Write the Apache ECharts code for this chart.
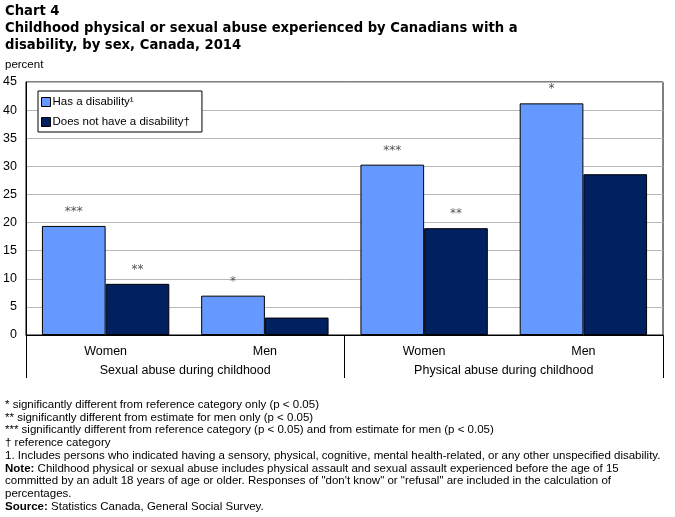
<!DOCTYPE html>
<html>
<head>
<meta charset="utf-8">
<script src="https://cdn.jsdelivr.net/npm/echarts@6/dist/echarts.min.js"></script>
<style>
  html, body { margin: 0; padding: 0; background: #fff; }
  #main { width: 675px; height: 517px; }
</style>
</head>
<body>
<div id="main"></div>
<script>
  // categories
  var sexes = ['Women', 'Men', 'Women', 'Men'];
  var abuseTypes = ['Sexual abuse during childhood', 'Physical abuse during childhood'];
  var seriesNames = ['Has a disability\u00b9', 'Does not have a disability\u2020'];

  // values (percent)
  var hasDisability = [19.4, 7.0, 30.3, 41.2];
  var noDisability = [9.1, 3.1, 19.0, 28.6];

  // significance markers shown above bars
  var hasMarks = ['***', '*', '***', '*'];
  var noMarks = ['**', '', '**', ''];

  var yTicks = { min: 0, max: 45, interval: 5 };

  var footnotes = [
    '* significantly different from reference category only (p < 0.05)',
    '** significantly different from estimate for men only (p < 0.05)',
    '*** significantly different from reference category (p < 0.05) and from estimate for men (p < 0.05)',
    '\u2020 reference category',
    '1. Includes persons who indicated having a sensory, physical, cognitive, mental health-related, or any other unspecified disability.',
    '{b|Note:} Childhood physical or sexual abuse includes physical assault and sexual assault experienced before the age of 15',
    'committed by an adult 18 years of age or older. Responses of "don\'t know" or "refusal" are included in the calculation of',
    'percentages.',
    '{b|Source:} Statistics Canada, General Social Survey.'
  ];

  var font = 'Liberation Sans';
  var chart = echarts.init(document.getElementById('main'));
  var option = {
    backgroundColor: '#ffffff',
    animation: false,
    title: [
      {
        left: 5, top: 3,
        text: 'Chart 4\nChildhood physical or sexual abuse experienced by Canadians with a\ndisability, by sex, Canada, 2014',
        textStyle: { fontFamily: 'DejaVu Sans', fontWeight: 'bold', fontSize: 13.2, lineHeight: 17, color: '#000' },
        padding: 0
      },
      {
        left: 5, top: 59,
        text: 'percent',
        textStyle: { fontFamily: font, fontWeight: 'normal', fontSize: 11.5, color: '#000' },
        padding: 0
      },
      {
        left: 5, top: 398.5,
        text: footnotes.join('\n'),
        padding: 0,
        textStyle: {
          fontFamily: font, fontWeight: 'normal', fontSize: 11.5, lineHeight: 12.7, color: '#000',
          rich: { b: { fontFamily: font, fontWeight: 'bold', fontSize: 11.5, lineHeight: 12.7, color: '#000' } }
        }
      }
    ],
    legend: {
      orient: 'vertical',
      left: 38, top: 91,
      padding: [5, 12, 4, 3],
      icon: 'rect',
      itemWidth: 9, itemHeight: 9, itemGap: 8,
      borderColor: '#000', borderWidth: 1,
      backgroundColor: '#fff',
      data: seriesNames,
      itemStyle: { borderColor: '#000', borderWidth: 1 },
      textStyle: { fontFamily: font, fontSize: 11.5, color: '#000', padding: [0, 0, 0, -3] }
    },
    grid: {
      left: 26, right: 12, top: 82, bottom: 182,
      show: true, borderColor: '#000', borderWidth: 1
    },
    xAxis: [
      {
        type: 'category',
        data: sexes,
        position: 'bottom',
        axisLine: { lineStyle: { color: '#000', width: 1 } },
        axisTick: { show: false },
        axisLabel: { color: '#000', fontFamily: font, fontSize: 12.5, margin: 10 }
      },
      {
        type: 'category',
        data: abuseTypes,
        position: 'bottom',
        axisLine: { show: false },
        axisTick: { show: true, length: 43, interval: 0, lineStyle: { color: '#000' } },
        axisLabel: { color: '#000', fontFamily: font, fontSize: 12.5, margin: 29 }
      }
    ],
    yAxis: {
      type: 'value',
      min: yTicks.min, max: yTicks.max, interval: yTicks.interval,
      axisLine: { show: true, lineStyle: { color: '#000' } },
      axisTick: { show: false },
      axisLabel: { color: '#000', fontFamily: font, fontSize: 12.5, margin: 9 },
      splitLine: { lineStyle: { color: '#b8b8b8', width: 1 } }
    },
    series: [
      {
        name: seriesNames[0],
        type: 'bar',
        xAxisIndex: 0,
        data: hasDisability,
        barGap: '0%',
        barCategoryGap: '20%',
        itemStyle: { color: '#6699ff', borderColor: '#000', borderWidth: 1 },
        label: {
          show: true, position: 'top', distance: 8,
          color: '#555', fontFamily: 'DejaVu Sans', fontSize: 12,
          formatter: function (p) { return hasMarks[p.dataIndex]; }
        }
      },
      {
        name: seriesNames[1],
        type: 'bar',
        xAxisIndex: 0,
        data: noDisability,
        barGap: '0%',
        barCategoryGap: '20%',
        itemStyle: { color: '#002060', borderColor: '#000', borderWidth: 1 },
        label: {
          show: true, position: 'top', distance: 8,
          color: '#555', fontFamily: 'DejaVu Sans', fontSize: 12,
          formatter: function (p) { return noMarks[p.dataIndex]; }
        }
      }
    ]
  };
  chart.setOption(option);
</script>
</body>
</html>
